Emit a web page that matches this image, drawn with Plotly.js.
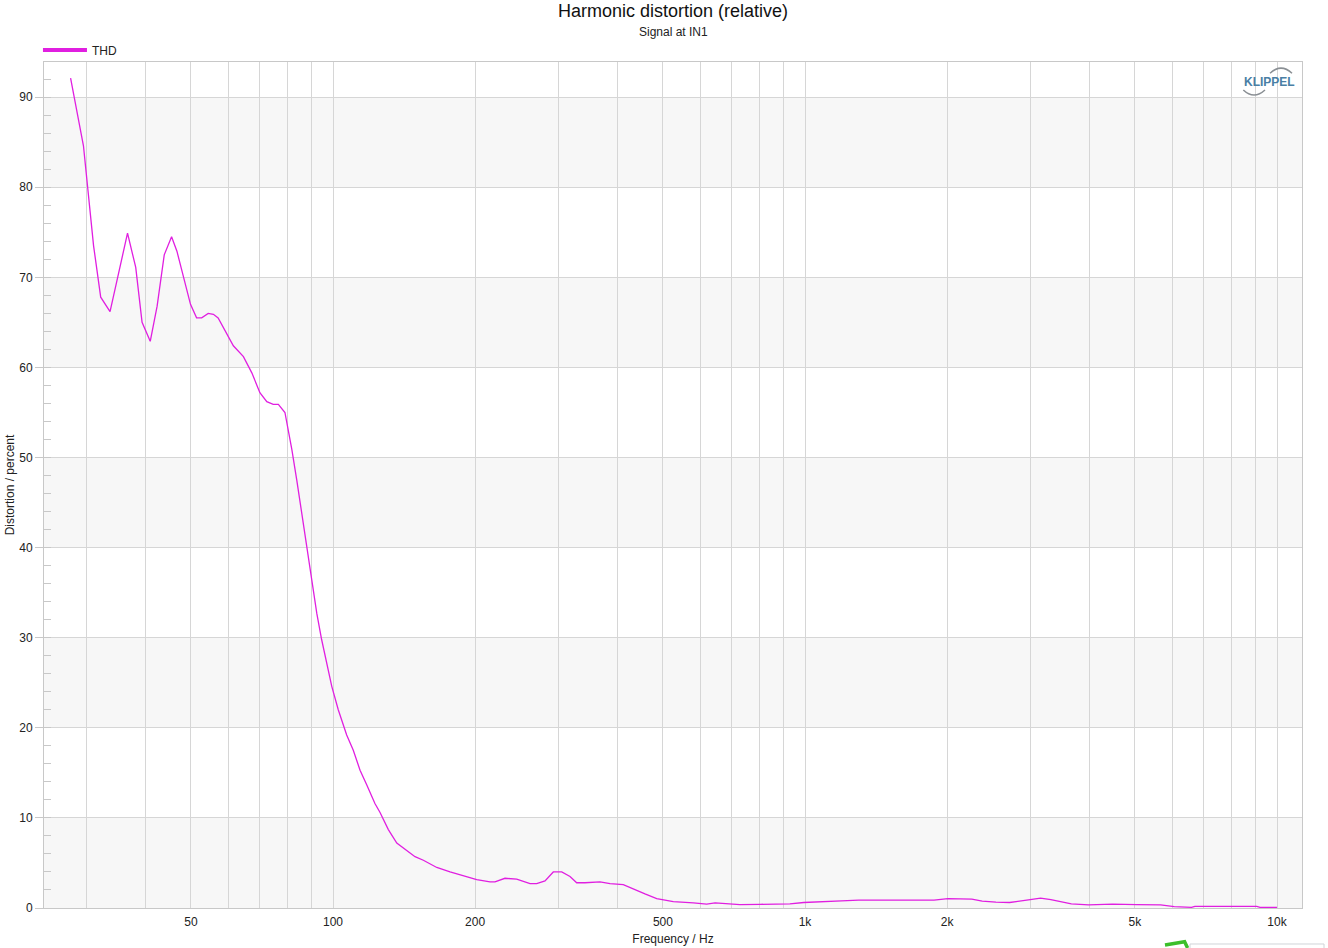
<!DOCTYPE html>
<html>
<head>
<meta charset="utf-8">
<script src="https://cdn.plot.ly/plotly-3.0.1.min.js"></script>
<style>html,body{margin:0;padding:0;background:#fff;}#chart{width:1328px;height:948px;}</style>
</head>
<body>
<div id="chart"></div>
<script>
// Frequency (Hz) and THD (%)
const freqHz = [27.8,29.6,31.1,32.2,33.7,35.1,36.7,38.2,39.4,41.0,42.4,43.9,45.5,46.7,48.2,49.9,51.4,52.7,54.4,55.8,57.1,59.5,61.5,64.6,67.3,70.0,72.4,74.7,76.6,79.1,80.4,81.8,83.8,85.8,88.0,90.1,92.4,94.6,97.0,99.4,102.6,106.9,110.4,114.1,117.8,122.7,125.8,131.0,136.5,142.0,149.2,155.4,165.9,177.0,188.8,201.6,215.1,220.4,231.4,245.0,261.5,270.1,281.3,292.9,305.2,317.8,328.3,341.9,367.9,386.3,412.1,432.8,458.1,485.1,526,580,619,645,683,728,803,880,929,994,1117,1195,1299,1510,1698,1877,2008,2257,2374,2538,2714,3000,3155,3318,3488,3667,3989,4484,5041,5667,6058,6590,6699,7925,9060,9205,10000];
const thdPct = [92.1,84.6,73.5,67.8,66.2,70.5,74.9,71.1,65.0,62.9,66.8,72.5,74.5,72.9,70.1,67.0,65.5,65.5,66.0,65.9,65.5,63.8,62.4,61.2,59.4,57.2,56.2,55.9,55.9,55.0,53.1,50.9,47.5,43.8,40.1,36.4,32.7,29.8,27.2,24.6,22.0,19.2,17.5,15.3,13.7,11.6,10.6,8.7,7.2,6.5,5.7,5.3,4.5,4.0,3.6,3.15,2.9,2.9,3.3,3.2,2.7,2.7,3.0,4.0,4.0,3.5,2.8,2.8,2.9,2.7,2.6,2.1,1.56,1.04,0.7,0.56,0.44,0.56,0.48,0.37,0.41,0.44,0.46,0.61,0.69,0.80,0.88,0.84,0.88,0.88,1.03,0.99,0.76,0.65,0.61,0.92,1.1,0.92,0.65,0.46,0.34,0.42,0.38,0.34,0.15,0.08,0.19,0.19,0.19,0.08,0.08];

// Axis tick positions and labels
const xGridVals = [30,40,50,60,70,80,90,100,200,300,400,500,600,700,800,900,1000,2000,3000,4000,5000,6000,7000,8000,9000,10000];
const xLabelMap = {50:"50",100:"100",200:"200",500:"500",1000:"1k",2000:"2k",5000:"5k",10000:"10k"};
const xTickText = xGridVals.map(v => xLabelMap[v] || "");
const yTickVals = [0,10,20,30,40,50,60,70,80,90];
const bandStarts = [0,20,40,60,80];

const seriesName = "THD";
const lineColor = "#e01fe0";
const font = "'Liberation Sans', Arial, sans-serif";

const shapes = bandStarts.map(b => ({
  type: "rect", xref: "paper", yref: "y", x0: 0, x1: 1, y0: b, y1: b + 10,
  fillcolor: "#f7f7f7", line: {width: 0}, layer: "below"
}));
// KLIPPEL logo arcs
shapes.push({type:"path", xref:"paper", yref:"paper", path:"M 0.97456 0.98664 Q 0.98331 0.99882 0.99205 0.98664", line:{color:"#8a8f94", width:1.5}});
shapes.push({type:"path", xref:"paper", yref:"paper", path:"M 0.95334 0.96690 Q 0.96184 0.95508 0.97059 0.96690", line:{color:"#8a8f94", width:1.5}});
// bottom-right artifacts
shapes.push({type:"path", xref:"paper", yref:"paper", path:"M 0.89109 -0.04377 L 0.90668 -0.03983 L 0.90907 -0.04728", line:{color:"#3cbf2a", width:3.5}});
shapes.push({type:"path", xref:"paper", yref:"paper", path:"M 0.91097 -0.04787 L 0.91097 -0.04255 L 1.01749 -0.04255 L 1.01749 -0.04787", line:{color:"#d0d4d8", width:1}});

const traces = [
  {x: freqHz, y: thdPct, type: "scatter", mode: "lines", name: seriesName, showlegend: false,
   line: {color: lineColor, width: 1.3}},
  {x: [null], y: [null], type: "scatter", mode: "lines", name: seriesName, showlegend: true,
   line: {color: lineColor, width: 4}, hoverinfo: "skip"}
];

const layout = {
  width: 1328, height: 948,
  margin: {l: 44, r: 26, t: 62, b: 40, pad: 0},
  paper_bgcolor: "#ffffff", plot_bgcolor: "#ffffff",
  font: {family: font, size: 12, color: "#222"},
  title: {text: "Harmonic distortion (relative)", x: 0.5, xanchor: "center", xref: "paper",
          y: 1 - 11/948, yref: "container", yanchor: "middle",
          font: {family: font, size: 18, color: "#111"}},
  showlegend: true,
  legend: {x: -0.0048, xanchor: "left", y: 1.0141, yanchor: "middle", orientation: "h",
           font: {family: font, size: 12, color: "#222"}, itemwidth: 44,
           bgcolor: "rgba(0,0,0,0)", borderwidth: 0, tracegroupgap: 0},
  xaxis: {
    type: "log", range: [1.38771, 4.05297],
    tickmode: "array", tickvals: xGridVals, ticktext: xTickText,
    ticks: "", ticklabelstandoff: 3, showgrid: true, gridcolor: "#d6d6d6", gridwidth: 1,
    showline: true, linecolor: "#c8c8c8", linewidth: 1, mirror: true,
    zeroline: false, automargin: false,
    tickfont: {family: font, size: 12, color: "#222"},
    title: {text: "Frequency / Hz", standoff: 6, font: {family: font, size: 12, color: "#222"}}
  },
  yaxis: {
    range: [0, 93.9], tickmode: "array", tickvals: yTickVals,
    ticks: "outside", ticklen: 8, tickcolor: "#c8c8c8", tickwidth: 1,
    showgrid: true, gridcolor: "#d6d6d6", gridwidth: 1,
    showline: true, linecolor: "#c8c8c8", linewidth: 1, mirror: true,
    zeroline: false, automargin: false,
    minor: {dtick: 2, ticks: "inside", ticklen: 7, tickcolor: "#c8c8c8", tickwidth: 1, showgrid: false},
    tickfont: {family: font, size: 12, color: "#222"},
    title: {text: "Distortion / percent", standoff: 2, font: {family: font, size: 12, color: "#222"}}
  },
  shapes: shapes,
  annotations: [
    {text: "Signal at IN1", xref: "paper", yref: "paper", x: 0.5, y: 1.0355, xanchor: "center", yanchor: "middle",
     showarrow: false, font: {family: font, size: 12, color: "#222"}},
    {text: "<b>KLIPPEL</b>", xref: "paper", yref: "paper", x: 0.97456, y: 0.97600, xanchor: "center", yanchor: "middle",
     showarrow: false, font: {family: font, size: 12, color: "#4a7fa5"}}
  ]
};

Plotly.newPlot("chart", traces, layout, {displayModeBar: false, staticPlot: true});
</script>
</body>
</html>
